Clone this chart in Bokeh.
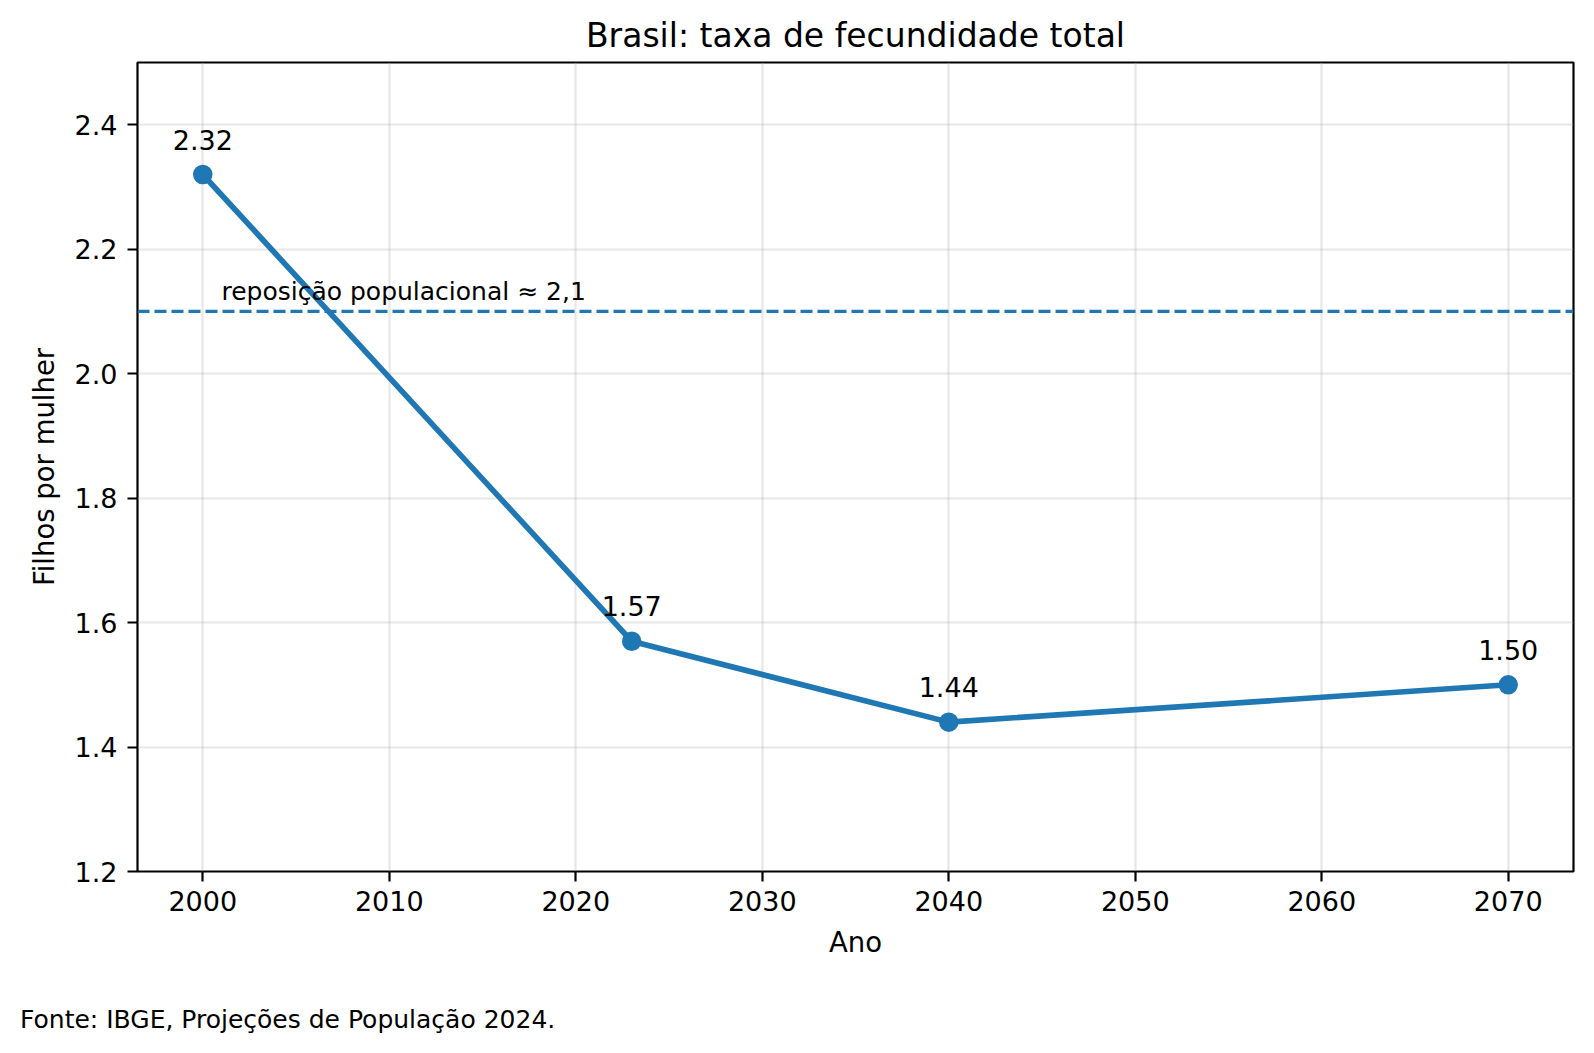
from bokeh.plotting import figure
from bokeh.models import (FixedTicker, NumeralTickFormatter, Span, Label, Div,
                          ColumnDataSource, Range1d)
from bokeh.layouts import column
from bokeh.core.properties import value
from bokeh.embed import file_html
from bokeh.resources import INLINE

# ---- data ----
years = [2000, 2023, 2040, 2070]
tfr = [2.32, 1.57, 1.44, 1.50]
point_labels = ["2.32", "1.57", "1.44", "1.50"]
x_ticks = [2000, 2010, 2020, 2030, 2040, 2050, 2060, 2070]
y_ticks = [1.2, 1.4, 1.6, 1.8, 2.0, 2.2, 2.4]
replacement_level = 2.1
replacement_text = "reposição populacional ≈ 2,1"
title_text = "Brasil: taxa de fecundidade total"
source_text = "Fonte: IBGE, Projeções de População 2024."

FONT = "DejaVu Sans"
BLUE = "#1f77b4"

FIG_H = 1005
FRAME_L, FRAME_R, FRAME_T, FRAME_B = 137, 1573, 62, 871

src = ColumnDataSource(dict(x=years, y=tfr, label=point_labels))

p = figure(width=1594, height=FIG_H, output_backend="svg", toolbar_location=None,
           x_range=Range1d(1996.5, 2073.5), y_range=Range1d(1.2, 2.5),
           min_border_left=FRAME_L, min_border_right=1594 - FRAME_R,
           min_border_top=FRAME_T, min_border_bottom=FIG_H - FRAME_B)

p.background_fill_color = "white"
p.border_fill_color = "white"
p.outline_line_color = "black"
p.outline_line_width = 2.2

# title
p.title.text = title_text
p.title.align = "center"
p.title.text_font = FONT
p.title.text_font_size = "33px"
p.title.text_font_style = "normal"
p.title.text_color = "black"
p.title.standoff = 15

# grid
for g in (p.xgrid, p.ygrid):
    g.grid_line_color = "#b0b0b0"
    g.grid_line_alpha = 0.3
    g.grid_line_width = 2.2
p.xgrid.ticker = FixedTicker(ticks=x_ticks)
p.ygrid.ticker = FixedTicker(ticks=y_ticks)

# axes
p.xaxis.ticker = FixedTicker(ticks=x_ticks)
p.yaxis.ticker = FixedTicker(ticks=y_ticks)
p.xaxis.formatter = NumeralTickFormatter(format="0")
p.yaxis.formatter = NumeralTickFormatter(format="0.0")
p.xaxis.axis_label = "Ano"
p.yaxis.axis_label = "Filhos por mulher"
for ax in (p.xaxis[0], p.yaxis[0]):
    ax.axis_line_color = None
    ax.major_tick_line_color = "black"
    ax.major_tick_line_width = 2.2
    ax.major_tick_out = 10
    ax.major_tick_in = 0
    ax.minor_tick_line_color = None
    ax.major_label_text_font = FONT
    ax.major_label_text_font_size = "27px"
    ax.major_label_text_color = "black"
    ax.axis_label_text_font = FONT
    ax.axis_label_text_font_size = "27.5px"
    ax.axis_label_text_font_style = "normal"
    ax.axis_label_text_color = "black"
p.xaxis.major_label_standoff = 9
p.yaxis.major_label_standoff = 10
p.xaxis.axis_label_standoff = 12
p.yaxis.axis_label_standoff = 12

# replacement line
p.add_layout(Span(location=replacement_level, dimension="width", line_color=BLUE,
                  line_width=3.3, line_dash="12 5"))
p.add_layout(Label(x=2001, y=replacement_level, y_offset=20, text=replacement_text,
                   text_font=FONT, text_font_size="25px", text_color="black",
                   text_baseline="alphabetic", text_align="left"))

# series
p.line("x", "y", source=src, line_color=BLUE, line_width=5.6)
p.scatter("x", "y", source=src, size=17.5, fill_color=BLUE, line_color=BLUE, line_width=2)
p.text("x", "y", text="label", source=src, y_offset=-35, text_align="center",
       text_baseline="alphabetic", text_font=value(FONT), text_font_size="27px",
       text_color="black")

# source note
note = Div(text=source_text, width=1574, height=1053 - FIG_H, margin=(0, 0, 0, 20),
           styles={"font-family": FONT, "font-size": "25px", "line-height": "29px",
                   "color": "black", "white-space": "nowrap"})

layout = column(p, note, spacing=0)
open("out.html", "w").write(file_html(layout, INLINE))
